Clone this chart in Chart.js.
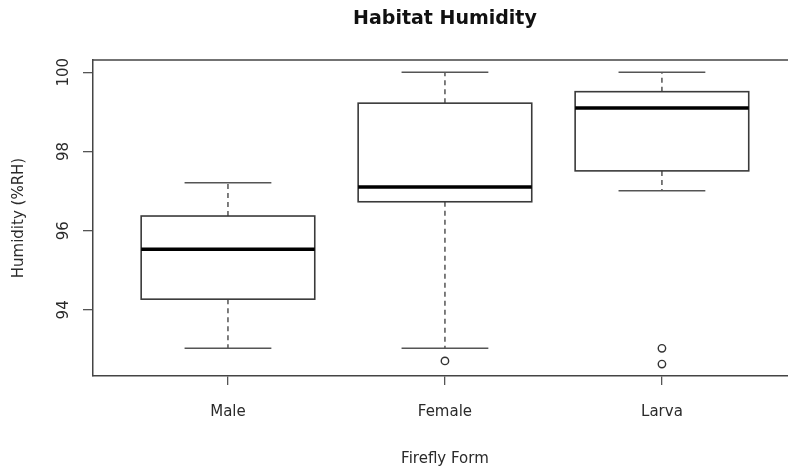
<!DOCTYPE html>
<html>
<head>
<meta charset="utf-8">
<script src="https://cdn.jsdelivr.net/npm/chart.js@4.4.1/dist/chart.umd.min.js"></script>
<style>
  html, body { margin: 0; padding: 0; background: #fff; }
  #wrap { width: 788px; height: 469px; }
</style>
</head>
<body>
<div id="wrap"><canvas id="myChart" width="788" height="469"></canvas></div>
<script>
// firefly forms along the x axis (positions 1, 2, 3)
const forms = ['Male', 'Female', 'Larva'];

// five number summaries
const whiskerLow = [93.03, 93.03, 97.01];
const q1 = [94.27, 96.73, 97.51];
const median = [95.53, 97.10, 99.10];
const q3 = [96.37, 99.22, 99.51];
const whiskerHigh = [97.21, 100.0, 100.0];

// outlying points
const outlierX = [2, 3, 3];
const outlierY = [92.71, 93.03, 92.63];

const yTicks = [94, 96, 98, 100];

const FONT = 'DejaVu Sans';
const LINE = '#3a3a3a';

const outliers = outlierX.map((x, i) => ({ x: x, y: outlierY[i] }));

// draws boxes, whiskers, titles, frame and the rotated y labels
const boxplotPlugin = {
  id: 'boxplot',
  afterDatasetsDraw(chart) {
    const ctx = chart.ctx;
    const xs = chart.scales.x;
    const ys = chart.scales.y;
    const area = chart.chartArea;
    ctx.save();

    for (let i = 0; i < forms.length; i++) {
      const c = xs.getPixelForValue(i + 1);
      const halfBox = xs.getPixelForValue(i + 1.4) - c;
      const halfCap = xs.getPixelForValue(i + 1.2) - c;
      const yLo = ys.getPixelForValue(whiskerLow[i]);
      const yQ1 = ys.getPixelForValue(q1[i]);
      const yMed = ys.getPixelForValue(median[i]);
      const yQ3 = ys.getPixelForValue(q3[i]);
      const yHi = ys.getPixelForValue(whiskerHigh[i]);

      // dashed whiskers
      ctx.strokeStyle = LINE;
      ctx.lineWidth = 1.3;
      ctx.setLineDash([5, 4]);
      ctx.beginPath();
      ctx.moveTo(c, yQ1); ctx.lineTo(c, yLo);
      ctx.moveTo(c, yQ3); ctx.lineTo(c, yHi);
      ctx.stroke();
      ctx.setLineDash([]);

      // caps
      ctx.lineWidth = 1.6;
      ctx.strokeStyle = '#555';
      ctx.beginPath();
      ctx.moveTo(c - halfCap, yLo); ctx.lineTo(c + halfCap, yLo);
      ctx.moveTo(c - halfCap, yHi); ctx.lineTo(c + halfCap, yHi);
      ctx.stroke();

      // box
      ctx.fillStyle = '#fff';
      ctx.fillRect(c - halfBox, yQ3, halfBox * 2, yQ1 - yQ3);
      ctx.strokeStyle = LINE;
      ctx.lineWidth = 1.6;
      ctx.strokeRect(c - halfBox, yQ3, halfBox * 2, yQ1 - yQ3);

      // median
      ctx.strokeStyle = '#000';
      ctx.lineWidth = 3.5;
      ctx.beginPath();
      ctx.moveTo(c - halfBox, yMed); ctx.lineTo(c + halfBox, yMed);
      ctx.stroke();
    }

    // top of the frame
    ctx.strokeStyle = '#444';
    ctx.lineWidth = 1.5;
    ctx.beginPath();
    ctx.moveTo(area.left, area.top);
    ctx.lineTo(area.right, area.top);
    ctx.stroke();

    // y tick labels, parallel to the axis
    ctx.fillStyle = '#2a2a2a';
    ctx.font = '15px "' + FONT + '"';
    ctx.textAlign = 'center';
    ctx.textBaseline = 'alphabetic';
    yTicks.forEach(v => {
      ctx.save();
      ctx.translate(68, ys.getPixelForValue(v));
      ctx.rotate(-Math.PI / 2);
      ctx.fillText(String(v), 0, 0);
      ctx.restore();
    });

    const mid = xs.getPixelForValue(2);
    // x axis title
    ctx.font = '15px "' + FONT + '"';
    ctx.fillText('Firefly Form', mid, 463);
    // main title
    ctx.fillStyle = '#111';
    ctx.font = 'bold 19px "' + FONT + '"';
    ctx.fillText('Habitat Humidity', mid, 24);

    ctx.restore();
  }
};

const config = {
  type: 'scatter',
  data: {
    datasets: [{
      label: 'outliers',
      data: outliers,
      pointRadius: 3.7,
      pointBorderWidth: 1.4,
      pointBorderColor: '#333',
      pointBackgroundColor: '#fff'
    }]
  },
  options: {
    responsive: false,
    animation: false,
    layout: { autoPadding: false, padding: { top: 60, left: 0, right: 0, bottom: 0 } },
    plugins: {
      legend: { display: false },
      tooltip: { enabled: false },
      title: { display: false }
    },
    scales: {
      x: {
        type: 'linear',
        position: 'bottom',
        min: 0.378,
        max: 3.581,
        afterBuildTicks: scale => { scale.ticks = [1, 2, 3].map(v => ({ value: v })); },
        afterFit: scale => { scale.height = 93; },
        ticks: {
          autoSkip: false,
          maxRotation: 0,
          padding: 18,
          color: '#2a2a2a',
          font: { family: FONT, size: 15 },
          callback: v => forms[v - 1]
        },
        grid: { drawOnChartArea: false, drawTicks: true, tickLength: 9, color: '#555', lineWidth: 1.3 },
        border: { display: true, color: '#444', width: 1.5 }
      },
      y: {
        min: 92.33,
        max: 100.31,
        afterBuildTicks: scale => { scale.ticks = yTicks.map(v => ({ value: v })); },
        afterFit: scale => { scale.width = 93; },
        ticks: { display: false },
        grid: { drawOnChartArea: false, drawTicks: true, tickLength: 10, color: '#555', lineWidth: 1.3 },
        border: { display: true, color: '#444', width: 1.5 },
        title: {
          display: true,
          text: 'Humidity (%RH)',
          color: '#2a2a2a',
          font: { family: FONT, size: 15 },
          padding: { top: 10, bottom: 0 }
        }
      }
    }
  },
  plugins: [boxplotPlugin]
};

new Chart(document.getElementById('myChart'), config);
</script>
</body>
</html>
